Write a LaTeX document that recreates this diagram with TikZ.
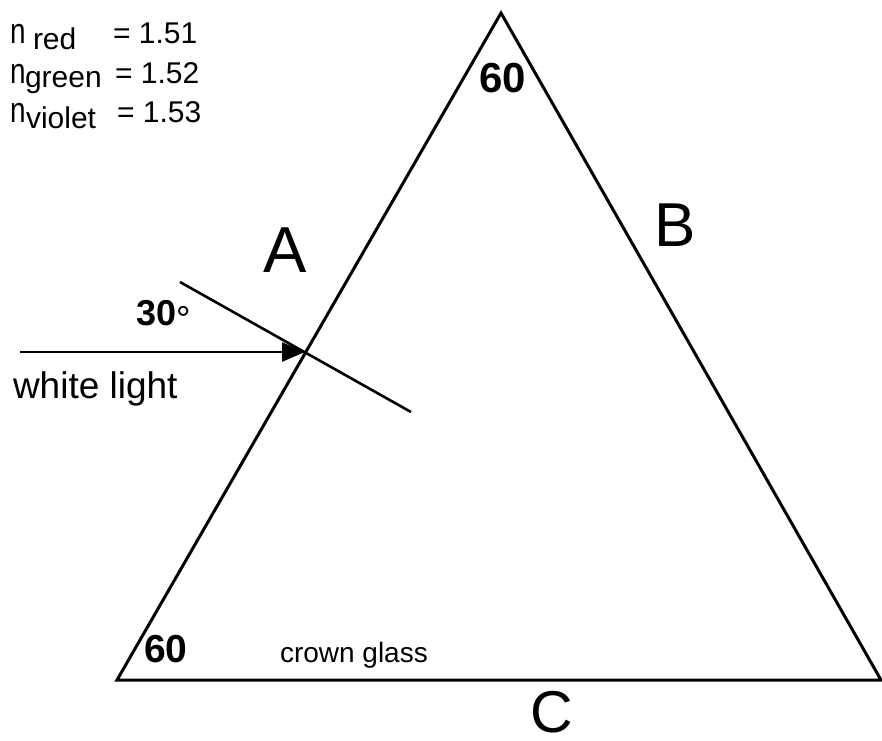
\documentclass[tikz,border=0pt]{standalone}
\usepackage{fontspec}
\setmainfont{Liberation Sans}
\usetikzlibrary{arrows.meta}
\newcommand\fsz[1]{\fontsize{#1}{#1}\selectfont}
\newcommand\talln{\scalebox{0.82}[1.05]{n}}
\begin{document}
\begin{tikzpicture}[x=1pt,y=-1pt,
  lbl/.style={inner sep=0pt,outer sep=0pt,anchor=base west},
  edge/.style={line width=3pt,line join=miter},
  ray/.style={line width=2.6pt}]
\useasboundingbox (0,0) rectangle (882,740);
% prism
\coordinate (apex) at (501,13);
\coordinate (bl) at (117,680);
\coordinate (br) at (881,680);
\draw[edge] (bl) -- (apex) -- (br) -- cycle;
% incident point and normal
\coordinate (P) at (305,352);
\coordinate (src) at (20,352);
\coordinate (n1) at (180,282);
\coordinate (n2) at (411,412);
\draw[ray] (n1) -- (n2);
\draw[ray,-{Triangle[length=23pt,width=19pt]}] (src) -- (P);
% index table
\node[lbl,font=\fsz{34}] (na) at (10,43) {\talln};
\node[lbl,font=\fsz{30}] (sa) at (33,49) {red};
\node[lbl,font=\fsz{30}] (va) at (113,43) {= 1.51};
\node[lbl,font=\fsz{34}] (nb) at (10,83) {\talln};
\node[lbl,font=\fsz{30}] (sb) at (25,87) {green};
\node[lbl,font=\fsz{30}] (vb) at (115,83) {= 1.52};
\node[lbl,font=\fsz{34}] (nc) at (10,122) {\talln};
\node[lbl,font=\fsz{30}] (sc) at (26,128) {violet};
\node[lbl,font=\fsz{30}] (vc) at (117,122) {= 1.53};
% labels
\node[lbl,font=\fsz{42}\bfseries] (top60) at (479,92) {60};
\node[lbl,font=\fsz{39}\bfseries] (bot60) at (144,662) {60};
\node[lbl,font=\fsz{28}] (glass) at (280,662) {crown glass};
\node[lbl,font=\fsz{37}] (white) at (13,398) {white light};
\node[lbl,font=\fsz{36}] (ang) at (136,325) {\bfseries 30\raisebox{-6pt}{\mdseries °}};
\node[lbl,font=\fsz{65}] (A) at (263,272) {A};
\node[lbl,font=\fsz{62}] (B) at (654,246) {B};
\node[lbl,font=\fsz{59}] (C) at (530,732) {C};
\end{tikzpicture}
\end{document}
